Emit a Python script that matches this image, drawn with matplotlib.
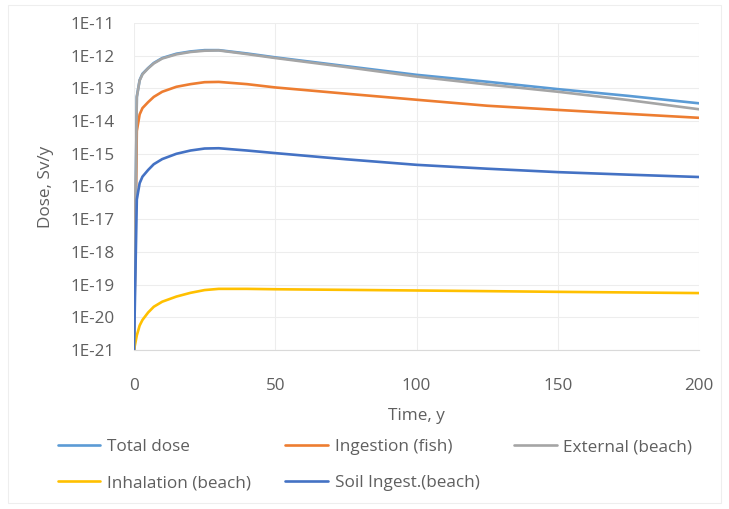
import matplotlib
matplotlib.use('Agg')
import matplotlib.pyplot as plt
from matplotlib.patches import Rectangle

# time points, years
time_y = [0, 1, 2, 3, 5, 7, 10, 15, 20, 25, 30, 40, 50, 75, 100, 125, 150, 175, 200]

# doses, Sv/y
total_dose = [1e-21, 5.6e-14, 1.8e-13, 2.8e-13, 4.2e-13, 6.0e-13, 8.5e-13, 1.15e-12, 1.35e-12,
              1.48e-12, 1.48e-12, 1.17e-12, 8.9e-13, 4.8e-13, 2.6e-13, 1.6e-13, 9.5e-14, 5.9e-14, 3.5e-14]
ingestion_fish = [1e-21, 5.0e-15, 1.6e-14, 2.5e-14, 3.8e-14, 5.5e-14, 7.9e-14, 1.12e-13, 1.35e-13,
                  1.55e-13, 1.58e-13, 1.35e-13, 1.07e-13, 6.9e-14, 4.5e-14, 2.95e-14, 2.2e-14, 1.66e-14, 1.26e-14]
external_beach = [1e-21, 5.4e-14, 1.75e-13, 2.7e-13, 4.1e-13, 5.8e-13, 8.2e-13, 1.1e-12, 1.3e-12,
                  1.42e-12, 1.45e-12, 1.12e-12, 8.5e-13, 4.5e-13, 2.3e-13, 1.32e-13, 7.9e-14, 4.4e-14, 2.3e-14]
inhalation_beach = [1e-21, 2.8e-21, 5.6e-21, 8.3e-21, 1.4e-20, 2.1e-20, 3.0e-20, 4.3e-20, 5.6e-20,
                    6.8e-20, 7.4e-20, 7.4e-20, 7.2e-20, 6.9e-20, 6.6e-20, 6.3e-20, 6.0e-20, 5.75e-20, 5.5e-20]
soil_ingest = [1e-21, 4.0e-17, 1.26e-16, 2.0e-16, 3.2e-16, 4.8e-16, 6.9e-16, 1.0e-15, 1.26e-15,
               1.45e-15, 1.48e-15, 1.26e-15, 1.05e-15, 6.8e-16, 4.6e-16, 3.5e-16, 2.75e-16, 2.3e-16, 1.95e-16]

series = [
    ('Total dose', total_dose, '#5B9BD5'),
    ('Ingestion (fish)', ingestion_fish, '#ED7D31'),
    ('External (beach)', external_beach, '#A5A5A5'),
    ('Inhalation (beach)', inhalation_beach, '#FFC000'),
    ('Soil Ingest.(beach)', soil_ingest, '#4472C4'),
]

y_ticks = [10.0 ** -k for k in range(11, 22)]
y_tick_labels = ['1E-{}'.format(k) for k in range(11, 22)]
x_ticks = [0, 50, 100, 150, 200]

plt.rcParams['font.family'] = ['Open Sans', 'DejaVu Sans']
text_color = '#5F5F5F'
fs = 12.3

fig = plt.figure(figsize=(7.29, 5.09), dpi=100)
ax = fig.add_axes([0.1838, 0.3124, 0.959 - 0.1838, 0.9548 - 0.3124])

handles = {}
for name, values, color in series:
    line, = ax.plot(time_y, values, color=color, lw=1.9, solid_capstyle='round', label=name)
    handles[name] = line

ax.set_yscale('log')
ax.set_ylim(1e-21, 1e-11)
ax.set_xlim(0, 200)
ax.set_yticks(y_ticks)
ax.set_yticklabels(y_tick_labels)
ax.minorticks_off()
ax.set_xticks(x_ticks)

ax.grid(True, color='#EDEDED', lw=0.8)
ax.set_axisbelow(True)
for side in ('top', 'right', 'left'):
    ax.spines[side].set_visible(False)
ax.spines['bottom'].set_color('#D9D9D9')
ax.tick_params(length=0, labelsize=fs, labelcolor=text_color)
ax.tick_params(axis='y', pad=14)
ax.tick_params(axis='x', pad=20)

ax.set_xlabel('Time, y', fontsize=fs, color=text_color, labelpad=10)
ax.set_ylabel('Dose, Sv/y', fontsize=fs, color=text_color, labelpad=12)

# excel fills the legend row by row, matplotlib column by column
order = ['Total dose', 'Inhalation (beach)', 'Ingestion (fish)', 'Soil Ingest.(beach)', 'External (beach)']
fig.legend([handles[n] for n in order], order, ncol=3, loc='upper left',
           bbox_to_anchor=(0.058, 0.167), bbox_transform=fig.transFigure,
           frameon=False, fontsize=fs, labelcolor=text_color,
           handlelength=2.5, handletextpad=0.4, columnspacing=2.0, labelspacing=1.15)

fig.patches.append(Rectangle((0.011, 0.012), 0.978, 0.978, transform=fig.transFigure,
                             fill=False, edgecolor='#EEEEEE', lw=0.8))

fig.savefig('out.png', dpi=100)
plt.close(fig)
